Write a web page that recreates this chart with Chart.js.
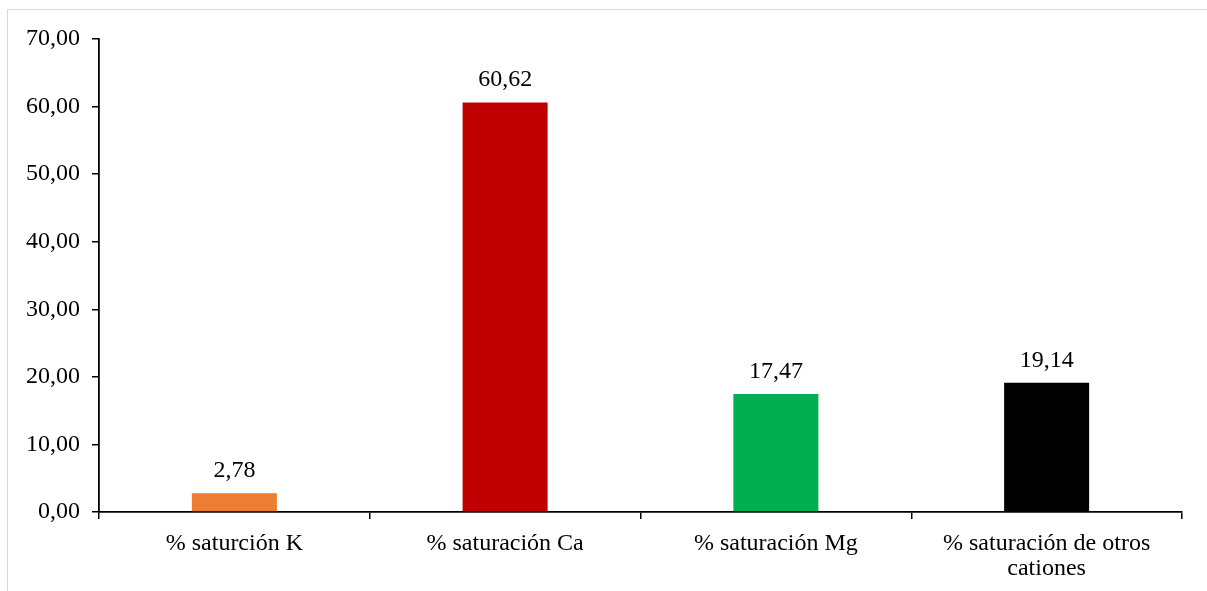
<!DOCTYPE html>
<html>
<head>
<meta charset="utf-8">
<script src="https://cdn.jsdelivr.net/npm/chart.js@4"></script>
<style>
  html, body { margin: 0; padding: 0; background: #ffffff; overflow: hidden; }
  #frame { position: absolute; left: 7px; top: 9px; width: 1300px; height: 700px; border: 1px solid #d9d9d9; box-sizing: border-box; }
  #wrap { position: absolute; left: 0; top: 0; width: 1207px; height: 591px; }
</style>
</head>
<body>
<div id="frame"></div>
<div id="wrap"><canvas id="c" width="1207" height="591"></canvas></div>
<script>
// Saturación de bases por catión (%)
const categories = [
  '% saturción K',
  '% saturación Ca',
  '% saturación Mg',
  ['% saturación de otros', 'cationes']
];
const saturation = [2.78, 60.62, 17.47, 19.14];
const barColors = ['#ED7D31', '#C00000', '#00B050', '#000000'];
const yTicks = [0, 10, 20, 30, 40, 50, 60, 70];

const FONT = "'Liberation Serif', 'Times New Roman', serif";
const FONT_SIZE = 24;
const fmt = v => v.toFixed(2).replace('.', ',');

// Writes each bar's value above it
const valueLabels = {
  id: 'valueLabels',
  afterDatasetsDraw(chart) {
    const ctx = chart.ctx;
    const meta = chart.getDatasetMeta(0);
    ctx.save();
    ctx.font = FONT_SIZE + 'px ' + FONT;
    ctx.fillStyle = '#000000';
    ctx.textAlign = 'center';
    ctx.textBaseline = 'alphabetic';
    meta.data.forEach((bar, i) => {
      ctx.fillText(fmt(saturation[i]), bar.x, bar.y - 16);
    });
    ctx.restore();
  }
};

new Chart(document.getElementById('c'), {
  type: 'bar',
  data: {
    labels: categories,
    datasets: [{
      data: saturation,
      backgroundColor: barColors,
      borderWidth: 0,
      categoryPercentage: 1,
      barPercentage: 0.314
    }]
  },
  options: {
    responsive: false,
    animation: false,
    devicePixelRatio: 1,
    layout: { padding: { top: 39, right: 25, left: 0, bottom: 0 } },
    plugins: { legend: { display: false }, tooltip: { enabled: false } },
    scales: {
      x: {
        grid: { display: true, drawOnChartArea: false, drawTicks: true, tickLength: 7, color: '#000000', lineWidth: 1.5, offset: true },
        border: { display: true, color: '#000000', width: 1.8 },
        ticks: { color: '#000000', font: { family: FONT, size: FONT_SIZE, lineHeight: 1.05 }, padding: 12, maxRotation: 0, autoSkip: false },
        afterFit(scale) { scale.height = 79; }
      },
      y: {
        min: 0, max: 70,
        afterBuildTicks(scale) { scale.ticks = yTicks.map(v => ({ value: v })); },
        grid: { display: true, drawOnChartArea: false, drawTicks: true, tickLength: 7, color: '#000000', lineWidth: 1.5 },
        border: { display: true, color: '#000000', width: 1.8 },
        ticks: { color: '#000000', font: { family: FONT, size: FONT_SIZE }, padding: 12, callback: v => fmt(v) },
        afterFit(scale) { scale.width = 99; }
      }
    }
  },
  plugins: [valueLabels]
});
</script>
</body>
</html>
